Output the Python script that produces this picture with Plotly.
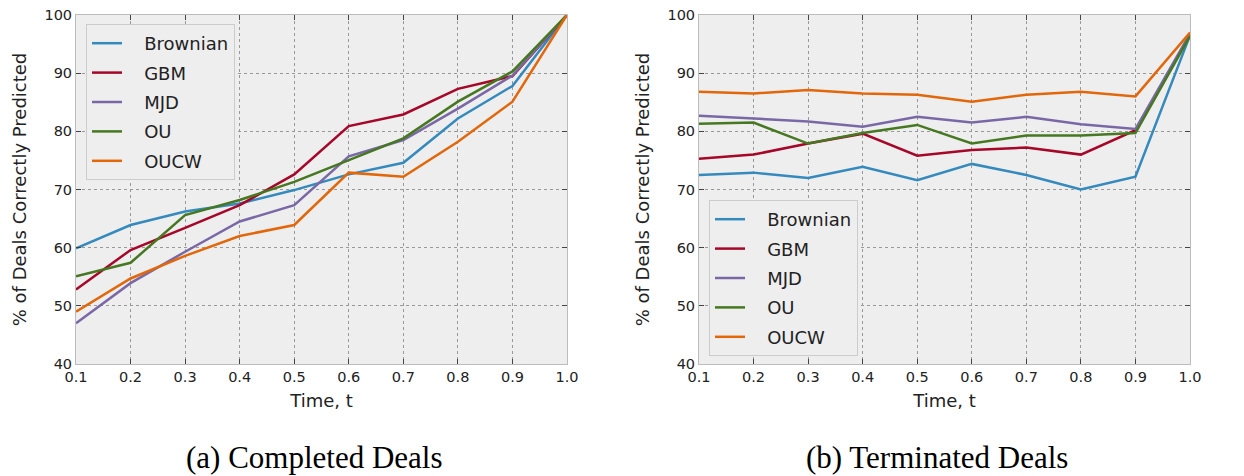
import plotly.graph_objects as go

# time points
t = [0.1, 0.2, 0.3, 0.4, 0.5, 0.6, 0.7, 0.8, 0.9, 1.0]
models = ["Brownian", "GBM", "MJD", "OU", "OUCW"]
colors = ["#348ABD", "#A60628", "#7A68A6", "#467821", "#E2670A"]

# (a) completed deals, % correctly predicted
completed_brownian = [59.9, 63.9, 66.2, 67.6, 69.9, 72.6, 74.6, 82.2, 87.8, 100.0]
completed_gbm = [52.8, 59.6, 63.4, 67.3, 72.6, 80.9, 82.9, 87.3, 89.5, 100.0]
completed_mjd = [47.0, 53.9, 59.3, 64.5, 67.3, 75.7, 78.5, 83.9, 89.6, 100.0]
completed_ou = [55.1, 57.4, 65.6, 68.2, 71.3, 75.0, 78.8, 85.1, 90.3, 100.0]
completed_oucw = [49.0, 54.7, 58.6, 62.0, 63.9, 72.9, 72.2, 78.2, 85.1, 100.0]

# (b) terminated deals
terminated_brownian = [72.5, 72.9, 72.0, 73.9, 71.6, 74.4, 72.5, 70.0, 72.2, 96.5]
terminated_gbm = [75.3, 76.0, 77.9, 79.6, 75.8, 76.8, 77.2, 76.0, 80.2, 96.6]
terminated_mjd = [82.7, 82.2, 81.7, 80.8, 82.5, 81.5, 82.5, 81.2, 80.4, 96.8]
terminated_ou = [81.3, 81.5, 77.9, 79.7, 81.1, 77.9, 79.3, 79.3, 79.7, 96.4]
terminated_oucw = [86.8, 86.5, 87.1, 86.5, 86.3, 85.1, 86.3, 86.8, 86.0, 97.0]

completed = [completed_brownian, completed_gbm, completed_mjd, completed_ou, completed_oucw]
terminated = [terminated_brownian, terminated_gbm, terminated_mjd, terminated_ou, terminated_oucw]

W, H = 1244, 476
OFF = 8  # page body margin in the browser

def px_x(v):
    return (v - OFF) / W

def px_y(v):
    return 1 - (v - OFF) / H

fig = go.Figure()

pad = "\u00a0\u00a0\u00a0"
for i, name in enumerate(models):
    fig.add_trace(go.Scatter(x=t, y=completed[i], name=pad + name, mode="lines",
                             line=dict(color=colors[i], width=2.5),
                             xaxis="x", yaxis="y", legend="legend",
                             legendgroup="a" + name))
for i, name in enumerate(models):
    fig.add_trace(go.Scatter(x=t, y=terminated[i], name=pad + name, mode="lines",
                             line=dict(color=colors[i], width=2.5),
                             xaxis="x2", yaxis="y2", legend="legend2",
                             legendgroup="b" + name))

tick_font = dict(family="DejaVu Sans", size=14.5, color="#222222")
title_font = dict(family="DejaVu Sans", size=18, color="#222222")

xaxis_style = dict(range=[0.1, 1.0], tickvals=t, ticktext=["%.1f" % v for v in t],
                   ticks="inside", ticklen=5, tickcolor="#444444",
                   showline=True, linecolor="#bcbcbc", mirror="ticks",
                   showgrid=True, gridcolor="#999999", griddash="dot", gridwidth=1,
                   zeroline=False, tickfont=tick_font, automargin=False,
                   ticklabeloverflow="allow",
                   title=dict(text="Time, t", font=title_font, standoff=9))
yaxis_style = dict(range=[40, 100], dtick=10,
                   ticks="inside", ticklen=5, tickcolor="#444444",
                   showline=True, linecolor="#bcbcbc", mirror="ticks",
                   showgrid=True, gridcolor="#999999", griddash="dot", gridwidth=1,
                   zeroline=False, tickfont=tick_font, automargin=False,
                   ticklabeloverflow="allow",
                   title=dict(text="% of Deals Correctly Predicted", font=title_font, standoff=13))

legend_style = dict(bgcolor="#eeeeee", bordercolor="#cccccc", borderwidth=1,
                    font=dict(family="DejaVu Sans", size=18, color="#222222"),
                    tracegroupgap=3, itemwidth=30, xanchor="left", yanchor="top")

ydom = [px_y(364), px_y(15)]

fig.update_layout(
    width=W, height=H,
    margin=dict(l=0, r=0, t=0, b=0),
    paper_bgcolor="white",
    plot_bgcolor="#eeeeee",
    showlegend=True,
    xaxis=dict(domain=[px_x(76), px_x(567)], anchor="y", **xaxis_style),
    yaxis=dict(domain=ydom, anchor="x", **yaxis_style),
    xaxis2=dict(domain=[px_x(699), px_x(1190)], anchor="y2", **xaxis_style),
    yaxis2=dict(domain=ydom, anchor="x2", **yaxis_style),
    legend=dict(x=px_x(86), y=px_y(24), **legend_style),
    legend2=dict(x=px_x(709), y=px_y(200), **legend_style),
    annotations=[
        dict(text="(a) Completed Deals", x=px_x(314), y=px_y(457), xref="paper", yref="paper",
             xanchor="center", yanchor="middle", showarrow=False,
             font=dict(family="Liberation Serif", size=31, color="black")),
        dict(text="(b) Terminated Deals", x=px_x(937), y=px_y(457), xref="paper", yref="paper",
             xanchor="center", yanchor="middle", showarrow=False,
             font=dict(family="Liberation Serif", size=31, color="black")),
    ],
)

fig.write_html("out.html")
